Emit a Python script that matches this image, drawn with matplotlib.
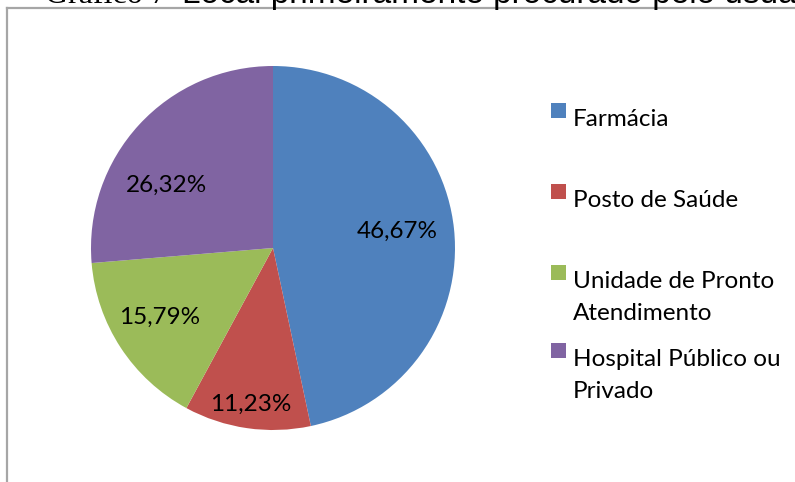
import numpy as np
import matplotlib
matplotlib.use("Agg")
import matplotlib.pyplot as plt
from matplotlib.patches import Rectangle
from matplotlib.lines import Line2D

# ---------- Data ----------
categories = ["Farmácia", "Posto de Saúde", "Unidade de Pronto\nAtendimento",
              "Hospital Público ou\nPrivado"]
values = [46.67, 11.23, 15.79, 26.32]
pct_labels = ["46,67%", "11,23%", "15,79%", "26,32%"]
colors = ["#4F81BD", "#C0504D", "#9BBB59", "#8064A2"]

# label placement (fraction of radius, angle offset in degrees)
label_dist = [0.69, 0.87, 0.73, 0.68]
label_dang = [1.5, 0.0, -1.5, 12.0]

# legend rows: pixel baseline of first text line, from top
legend_base = [126, 207, 288, 366]
line_step = 32

W, H = 795, 482
fig = plt.figure(figsize=(W / 100, H / 100), dpi=100)

# frame lines (page border)
fig.add_artist(Line2D([7 / W, 7 / W], [0, 1 - 8 / H], color="#A6A6A6", lw=1.6))
fig.add_artist(Line2D([7 / W, 1], [1 - 8 / H, 1 - 8 / H], color="#A6A6A6", lw=1.6))

# cut-off caption at top
fig.text(45 / W, 1 - 3 / H, "Gráfico 7 –", fontsize=23, family="Liberation Serif",
         va="baseline", ha="left")
fig.text(182 / W, 1 - 3 / H, "Local primeiramente procurado pelo usuário",
         fontsize=24, family="Liberation Sans", va="baseline", ha="left")

# ---------- Pie ----------
cx, cy, r = 273, 248, 182
ax = fig.add_axes([(cx - r) / W, (H - cy - r) / H, 2 * r / W, 2 * r / H])
wedges, _ = ax.pie(values, colors=colors, startangle=90, counterclock=False,
                   radius=1.0, wedgeprops=dict(linewidth=0))
ax.set_xlim(-1, 1)
ax.set_ylim(-1, 1)
ax.set_aspect("auto")
ax.axis("off")

for w, lab, d, da in zip(wedges, pct_labels, label_dist, label_dang):
    ang = np.deg2rad((w.theta1 + w.theta2) / 2 + da)
    ax.text(d * np.cos(ang), d * np.sin(ang), lab, ha="center", va="center",
            fontsize=17.5, family="Lato", color="black")

# ---------- Legend ----------
for cat, col, yb in zip(categories, colors, legend_base):
    fig.add_artist(Rectangle((551 / W, 1 - (yb - 8) / H), 15 / W, 15 / H,
                             facecolor=col, edgecolor="none"))
    for i, line in enumerate(cat.split("\n")):
        fig.text(573 / W, 1 - (yb + i * line_step) / H, line, ha="left",
                 va="baseline", fontsize=17.5, family="Lato")

fig.savefig("out.png", dpi=100)
